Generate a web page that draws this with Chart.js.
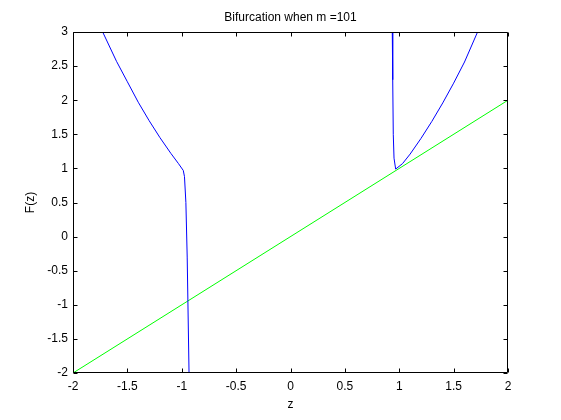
<!DOCTYPE html>
<html>
<head>
<meta charset="utf-8">
<script src="https://cdn.jsdelivr.net/npm/chart.js@4"></script>
<style>
html,body{margin:0;padding:0;background:#fff;}
#wrap{width:561px;height:420px;}
</style>
</head>
<body>
<div id="wrap"><canvas id="c" width="561" height="420"></canvas></div>
<script>
// Data
const titleText = 'Bifurcation when m =101';
const xLabel = 'z';
const yLabel = 'F(z)';
const xTickLabels = ['-2','-1.5','-1','-0.5','0','0.5','1','1.5','2'];
const yTickLabels = ['-2','-1.5','-1','-0.5','0','0.5','1','1.5','2','2.5','3'];

const leftZ = [-1.727, -1.6, -1.5, -1.4, -1.3, -1.2, -1.1, -1.03, -0.986, -0.975, -0.962, -0.95, -0.933];
const leftF = [3.0, 2.57, 2.27, 1.97, 1.70, 1.45, 1.22, 1.07, 0.97, 0.88, 0.5, -0.3, -2.0];

const rightZ = [0.936, 0.94, 0.945, 0.952, 0.967, 1.03, 1.1, 1.2, 1.3, 1.4, 1.5, 1.6, 1.72];
const rightF = [3.0, 2.3, 1.5, 1.15, 0.99, 1.07, 1.21, 1.44, 1.69, 1.96, 2.25, 2.56, 3.0];

const lineZ = [-2, 2];
const lineF = [-2, 2];

function pts(xs, ys){ return xs.map((x,i)=>({x:x, y:ys[i]})); }

const FONT = 'Liberation Sans, Arial, sans-serif';
const FS = 12;

const boxPlugin = {
  id: 'box',
  afterDatasetsDraw(chart){
    const {ctx, chartArea:a, scales} = chart;
    const L = Math.round(a.left)+0.5, R = Math.round(a.right)-0.5;
    const T = Math.round(a.top)+0.5, B = Math.round(a.bottom)-0.5;
    ctx.save();
    ctx.strokeStyle = '#000';
    ctx.lineWidth = 1;
    ctx.beginPath();
    ctx.rect(L, T, R-L, B-T);
    const tl = 4;
    scales.x.ticks.forEach(t=>{
      const px = Math.round(scales.x.getPixelForValue(t.value))+0.5;
      ctx.moveTo(px, B); ctx.lineTo(px, B-tl);
      ctx.moveTo(px, T); ctx.lineTo(px, T+tl);
    });
    scales.y.ticks.forEach(t=>{
      const py = Math.round(scales.y.getPixelForValue(t.value))+0.5;
      ctx.moveTo(L, py); ctx.lineTo(L+tl, py);
      ctx.moveTo(R, py); ctx.lineTo(R-tl, py);
    });
    ctx.stroke();
    ctx.restore();
  }
};

new Chart(document.getElementById('c'), {
  type: 'scatter',
  data: {
    datasets: [
      {data: pts(leftZ, leftF), showLine: true, borderColor: '#0000ff', borderWidth: 1, pointRadius: 0, tension: 0},
      {data: pts(rightZ, rightF), showLine: true, borderColor: '#0000ff', borderWidth: 1, pointRadius: 0, tension: 0},
      {data: pts(lineZ, lineF), showLine: true, borderColor: '#00ff00', borderWidth: 1, pointRadius: 0, tension: 0}
    ]
  },
  plugins: [boxPlugin],
  options: {
    responsive: false,
    animation: false,
    devicePixelRatio: 1,
    layout: {padding: {left: 0, right: 53, top: 0, bottom: 0}},
    plugins: {legend: {display: false}, tooltip: {enabled: false}, title: {display: false}},
    scales: {
      x: {
        type: 'linear', position: 'bottom', min: -2, max: 2,
        ticks: {stepSize: 0.5, color: '#000', font: {family: FONT, size: FS}, padding: 6,
                maxRotation: 0, autoSkip: false,
                callback: (v, i) => xTickLabels[i]},
        grid: {display: false, drawTicks: false},
        border: {display: false},
        title: {display: true, text: xLabel, color: '#000', font: {family: FONT, size: FS}, padding: {top: 0, bottom: 8}},
        afterFit: s => { s.height = 47; }
      },
      top: {
        type: 'linear', position: 'top', min: -2, max: 2,
        ticks: {display: false},
        grid: {display: false, drawTicks: false},
        border: {display: false},
        title: {display: true, text: titleText, color: '#000', font: {family: FONT, size: FS}, padding: {top: 10, bottom: 0}},
        afterFit: s => { s.height = 32; }
      },
      y: {
        type: 'linear', position: 'left', min: -2, max: 3,
        ticks: {stepSize: 0.5, color: '#000', font: {family: FONT, size: FS}, padding: 5,
                autoSkip: false, callback: (v, i) => yTickLabels[i]},
        grid: {display: false, drawTicks: false},
        border: {display: false},
        title: {display: true, text: yLabel, color: '#000', font: {family: FONT, size: FS}, padding: {top: 23, bottom: 0}},
        afterFit: s => { s.width = 73; }
      }
    }
  }
});
</script>
</body>
</html>
